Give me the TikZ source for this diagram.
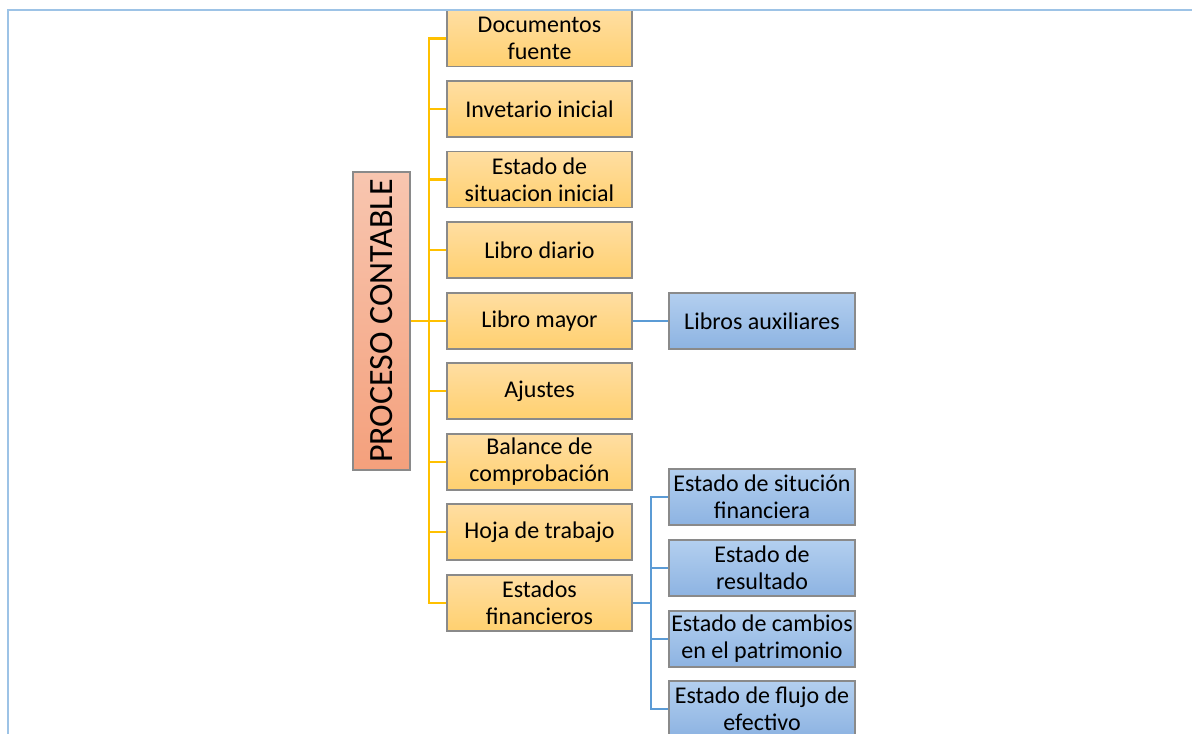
\documentclass[tikz,border=0pt]{standalone}
\usepackage{fontspec}
\setmainfont{Carlito}
\usepackage{tikz}
\usetikzlibrary{positioning}
\definecolor{frameBlue}{HTML}{9DC3E6}
\definecolor{trunkGold}{HTML}{FFC000}
\definecolor{trunkBlue}{HTML}{5B9BD5}
\definecolor{stepTop}{HTML}{FFDEA2}
\definecolor{stepBot}{HTML}{FFD06F}
\definecolor{subTop}{HTML}{B3CFEF}
\definecolor{subBot}{HTML}{8DB3E2}
\definecolor{rootTop}{HTML}{F8C6B0}
\definecolor{rootBot}{HTML}{F4A07C}
\definecolor{edgeGray}{HTML}{8A8A8A}
\begin{document}
\begin{tikzpicture}[
    x=0.5pt, y=-0.5pt,
    every node/.style={font=\fontsize{12}{13.5}\selectfont, text=black},
    rootbox/.style={draw=edgeGray, line width=0.6pt, top color=rootTop, bottom color=rootBot, minimum width=28.5pt, minimum height=149pt, inner sep=0pt, font=\fontsize{17}{20}\selectfont},
    stepbox/.style={draw=edgeGray, line width=0.6pt, top color=stepTop, bottom color=stepBot, minimum width=92.5pt, minimum height=28pt, inner sep=1pt, align=center},
    subbox/.style={draw=edgeGray, line width=0.6pt, top color=subTop, bottom color=subBot, minimum width=93pt, minimum height=28pt, inner sep=1pt, align=center},
    glink/.style={draw=trunkGold, line width=1.4pt},
    blink/.style={draw=trunkBlue, line width=1.4pt},
    framed/.style={draw=frameBlue, line width=1.4pt},
]
\useasboundingbox (0,0) rectangle (1192,733);
\clip (0,0) rectangle (1192,733);
% root
\node[rootbox] (root) at (381.5,321) {\rotatebox{90}{PROCESO CONTABLE}};
% steps of the process
\node[stepbox] (y1) at (539.5,38.5) {Documentos\\fuente};
\node[stepbox] (y2) at (539.5,109) {Invetario inicial};
\node[stepbox] (y3) at (539.5,179.5) {Estado de\\situacion inicial};
\node[stepbox] (y4) at (539.5,250) {Libro diario};
\node[stepbox] (y5) at (539.5,321) {Libro mayor};
\node[stepbox] (y6) at (539.5,391) {Ajustes};
\node[stepbox] (y7) at (539.5,462) {Balance de\\comprobación};
\node[stepbox] (y8) at (539.5,532) {Hoja de trabajo};
\node[stepbox] (y9) at (539.5,603) {Estados\\financieros};
% sub-items
\node[subbox] (aux) at (762,321) {Libros auxiliares};
\node[subbox] (f1) at (762,497) {Estado de situción\\financiera};
\node[subbox] (f2) at (762,568) {Estado de\\resultado};
\node[subbox] (f3) at (762,639) {Estado de cambios\\en el patrimonio};
\node[subbox] (f4) at (762,709) {Estado de flujo de\\efectivo};
% connectors
\coordinate (gtrunk) at (429,321);
\coordinate (btrunk) at (651,603);
\draw[glink] (root.east) -- (gtrunk);
\foreach \i in {1,...,9} \draw[glink] (gtrunk) |- (y\i.west);
\draw[blink] (y5.east) -- (aux.west);
\draw[blink] (y9.east) -- (btrunk);
\foreach \j in {1,...,4} \draw[blink] (btrunk) |- (f\j.west);
% frame
\draw[framed] (8,735) -- (8,10) -- (1194,10);
\end{tikzpicture}
\end{document}
